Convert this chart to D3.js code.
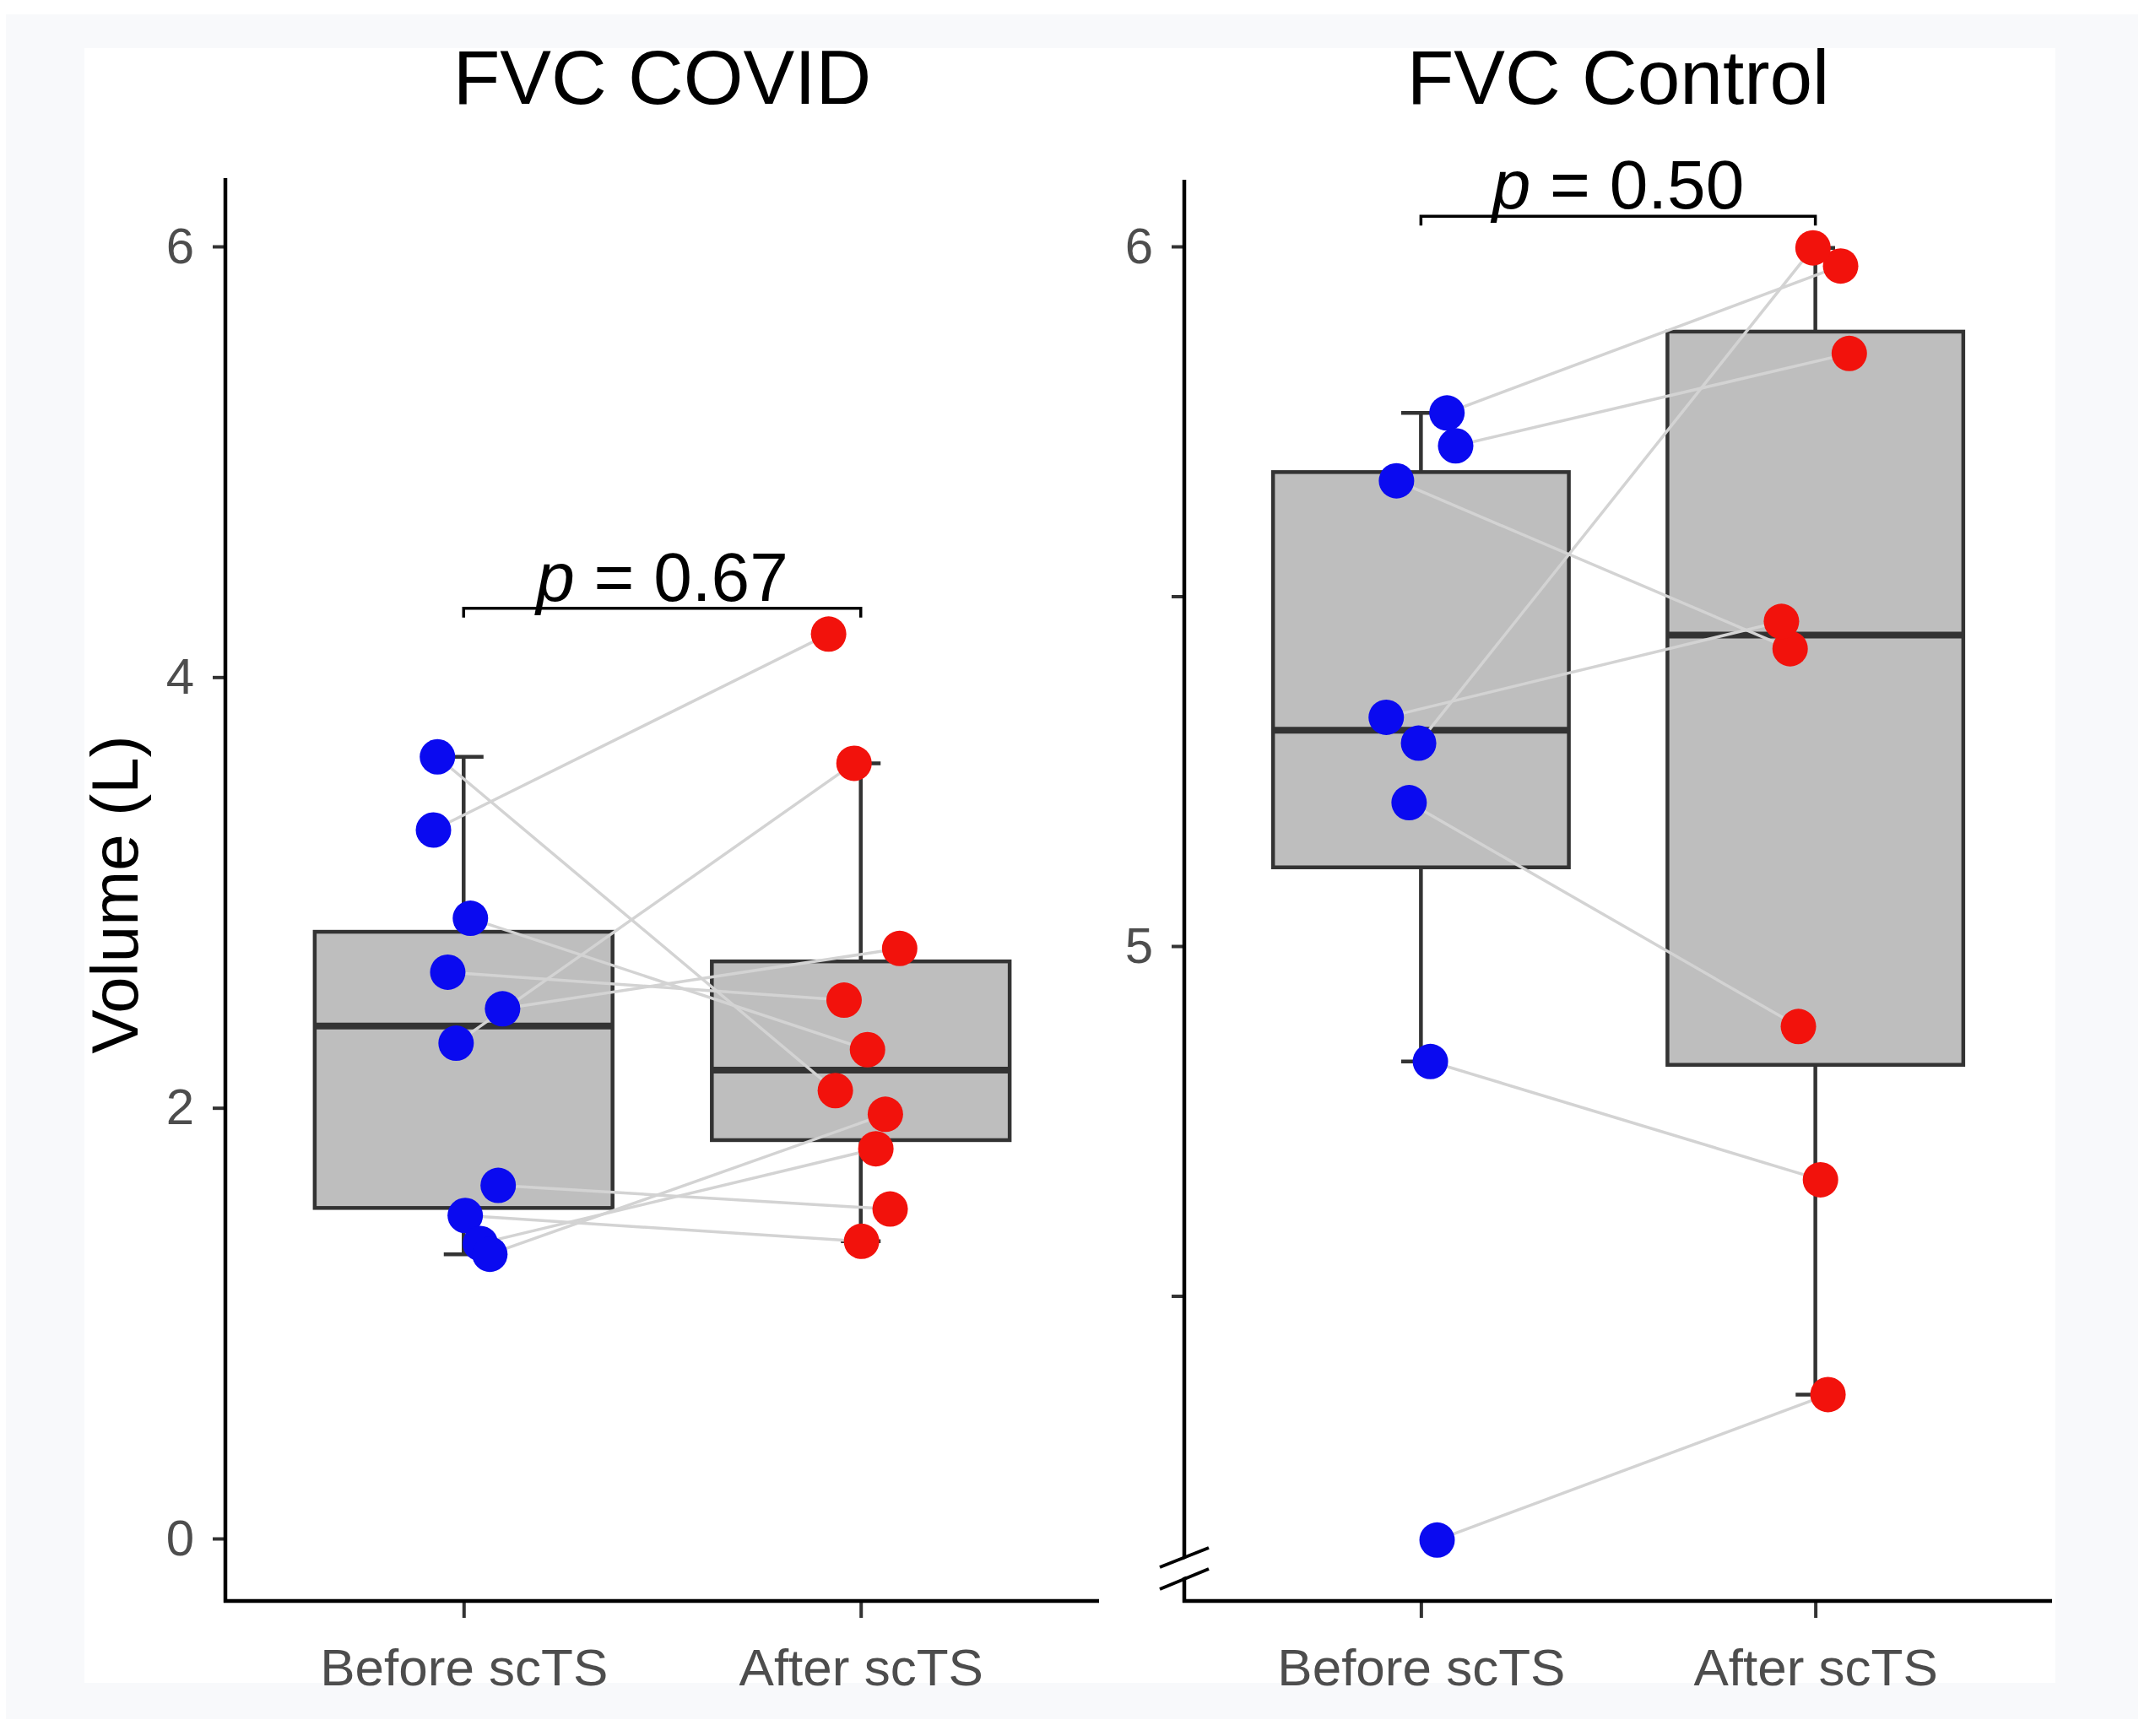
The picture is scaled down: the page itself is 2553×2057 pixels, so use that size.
<!DOCTYPE html>
<html><head><meta charset="utf-8">
<script src="https://cdn.jsdelivr.net/npm/d3@7"></script>
<style>html,body{margin:0;padding:0;background:#fff;} svg{display:block;font-family:"Liberation Sans",Arial,Helvetica,sans-serif;}</style>
</head><body><div id="chart"></div>
<script>
// ---------- data ----------
const categories = ["Before scTS", "After scTS"];
const panelTitles = ["FVC COVID", "FVC Control"];
const yLabel = "Volume (L)";

// paired values (index i in Before is linked to index i in After)
const covidBefore = [3.63, 3.29, 2.88, 2.63, 2.46, 2.30, 1.64, 1.50, 1.37, 1.32];
const covidAfter  = [2.08, 4.20, 2.27, 2.50, 2.74, 3.60, 1.53, 1.38, 1.81, 1.97];
const covidJitterBefore = [-0.066, -0.076, 0.017, -0.040, 0.098, -0.019, 0.087, 0.004, 0.042, 0.066];
const covidJitterAfter  = [-0.064, -0.081, 0.017, -0.042, 0.098, -0.017, 0.074, 0.002, 0.038, 0.062];

const controlBefore = [5.762, 5.715, 5.665, 5.327, 5.290, 5.205, 4.835, 4.151];
const controlAfter  = [5.972, 5.847, 5.425, 5.464, 5.998, 4.885, 4.666, 4.359];
const controlJitterBefore = [0.066, 0.088, -0.062, -0.088, -0.006, -0.030, 0.024, 0.041];
const controlJitterAfter  = [0.064, 0.086, -0.064, -0.086, -0.006, -0.043, 0.013, 0.032];

const covidTicks = [0, 2, 4, 6];
const covidTickLabels = ["0", "2", "4", "6"];
const controlTicks = [4.5, 5, 5.5, 6];
const controlTickLabels = ["", "5", "", "6"];
const pLabels = ["0.67", "0.50"];

// ---------- layout ----------
const W = 2553, H = 2057;
const svg = d3.select("#chart").append("svg").attr("width", W).attr("height", H);

svg.append("rect").attr("x", 0).attr("y", 0).attr("width", W).attr("height", H).attr("fill", "#ffffff");
svg.append("rect").attr("x", 7).attr("y", 17).attr("width", 2526).attr("height", 2020).attr("fill", "#f8f9fb");
svg.append("rect").attr("x", 100).attr("y", 57).attr("width", 2335).attr("height", 1937).attr("fill", "#ffffff");

const panels = [
  { title: panelTitles[0], before: covidBefore, after: covidAfter, jb: covidJitterBefore, ja: covidJitterAfter,
    xRange: [267, 1302], yDomain: [0, 6], yRange: [1823, 292], axisTop: 211, axisBottom: 1897,
    ticks: covidTicks, tickLabels: covidTickLabels, bracket: 4.32, p: pLabels[0], brk: false },
  { title: panelTitles[1], before: controlBefore, after: controlAfter, jb: controlJitterBefore, ja: controlJitterAfter,
    xRange: [1403, 2431], yDomain: [5, 6], yRange: [1121, 292], axisTop: 213, axisBottom: 1897,
    ticks: controlTicks, tickLabels: controlTickLabels, bracket: 6.043, p: pLabels[1], brk: true }
];

const BLUE = "#0a0af0", RED = "#f2120c";

function boxStats(vals) {
  const s = vals.slice().sort(d3.ascending);
  const q1 = d3.quantile(s, 0.25), med = d3.quantile(s, 0.5), q3 = d3.quantile(s, 0.75);
  const iqr = q3 - q1;
  const lo = d3.min(s.filter(v => v >= q1 - 1.5 * iqr));
  const hi = d3.max(s.filter(v => v <= q3 + 1.5 * iqr));
  return { q1, med, q3, lo, hi };
}

panels.forEach(P => {
  const g = svg.append("g");
  const x = d3.scalePoint().domain(categories).range(P.xRange).padding(0.6);
  const y = d3.scaleLinear().domain(P.yDomain).range(P.yRange);
  const step = x.step();
  const bw = step * 0.75;
  const groups = [P.before, P.after];

  // title
  g.append("text").attr("x", (P.xRange[0] + P.xRange[1]) / 2).attr("y", 123)
    .attr("text-anchor", "middle").attr("font-size", 91).attr("fill", "#000").text(P.title);

  // boxplots
  groups.forEach((vals, i) => {
    const st = boxStats(vals);
    const cx = x(categories[i]);
    const capW = step * 0.1;
    g.append("line").attr("x1", cx).attr("x2", cx).attr("y1", y(st.q3)).attr("y2", y(st.hi))
      .attr("stroke", "#333").attr("stroke-width", 4.5);
    g.append("line").attr("x1", cx).attr("x2", cx).attr("y1", y(st.q1)).attr("y2", y(st.lo))
      .attr("stroke", "#333").attr("stroke-width", 4.5);
    [st.hi, st.lo].forEach(v => {
      g.append("line").attr("x1", cx - capW / 2).attr("x2", cx + capW / 2).attr("y1", y(v)).attr("y2", y(v))
        .attr("stroke", "#333").attr("stroke-width", 4.5);
    });
    g.append("rect").attr("x", cx - bw / 2).attr("y", y(st.q3)).attr("width", bw).attr("height", y(st.q1) - y(st.q3))
      .attr("fill", "#bebebe").attr("stroke", "#333").attr("stroke-width", 4.5);
    g.append("line").attr("x1", cx - bw / 2).attr("x2", cx + bw / 2).attr("y1", y(st.med)).attr("y2", y(st.med))
      .attr("stroke", "#333").attr("stroke-width", 8);
  });

  // paired lines
  const xb = x(categories[0]), xa = x(categories[1]);
  P.before.forEach((v, i) => {
    g.append("line")
      .attr("x1", xb + P.jb[i] * step).attr("y1", y(v))
      .attr("x2", xa + P.ja[i] * step).attr("y2", y(P.after[i]))
      .attr("stroke", "#d3d3d3").attr("stroke-width", 3.5);
  });
  // points
  P.before.forEach((v, i) => {
    g.append("circle").attr("cx", xb + P.jb[i] * step).attr("cy", y(v)).attr("r", 21).attr("fill", BLUE);
  });
  P.after.forEach((v, i) => {
    g.append("circle").attr("cx", xa + P.ja[i] * step).attr("cy", y(v)).attr("r", 21).attr("fill", RED);
  });

  // significance bracket
  const by = y(P.bracket);
  g.append("path").attr("d", `M${xb},${by + 11}V${by}H${xa}V${by + 11}`)
    .attr("fill", "none").attr("stroke", "#000").attr("stroke-width", 3.5);
  const pt = g.append("text").attr("x", (xb + xa) / 2).attr("y", by - 9)
    .attr("text-anchor", "middle").attr("font-size", 82).attr("fill", "#000");
  pt.append("tspan").attr("font-style", "italic").text("p");
  pt.append("tspan").text(" = " + P.p);

  // y axis
  const yAxis = d3.axisLeft(y).tickValues(P.ticks).tickSize(15).tickPadding(22)
    .tickFormat((d, i) => P.tickLabels[i]);
  const ya = g.append("g").attr("transform", `translate(${P.xRange[0]},0)`).call(yAxis);
  ya.select(".domain").remove();
  ya.selectAll(".tick line").attr("stroke", "#333").attr("stroke-width", 4);
  ya.selectAll(".tick text").attr("font-size", 60).attr("fill", "#4d4d4d")
    .attr("font-family", "'Liberation Sans', Arial, sans-serif");
  g.append("line").attr("x1", P.xRange[0]).attr("x2", P.xRange[0]).attr("y1", P.axisTop).attr("y2", P.axisBottom + 2)
    .attr("stroke", "#000").attr("stroke-width", 4.5);

  // x axis
  const xAxis = d3.axisBottom(x).tickSize(20).tickPadding(36);
  const xa_ = g.append("g").attr("transform", `translate(0,${P.axisBottom})`).call(xAxis);
  xa_.select(".domain").remove();
  xa_.selectAll(".tick line").attr("stroke", "#333").attr("stroke-width", 4);
  xa_.selectAll(".tick text").attr("font-size", 62).attr("fill", "#4d4d4d")
    .attr("font-family", "'Liberation Sans', Arial, sans-serif");
  g.append("line").attr("x1", P.xRange[0] - 2).attr("x2", P.xRange[1]).attr("y1", P.axisBottom).attr("y2", P.axisBottom)
    .attr("stroke", "#000").attr("stroke-width", 4.5);

  // axis break marks
  if (P.brk) {
    const ax = P.xRange[0];
    g.append("polygon")
      .attr("points", [[ax - 29, 1859], [ax + 29, 1836], [ax + 29, 1857], [ax - 29, 1880]].map(p => p.join(",")).join(" "))
      .attr("fill", "#fff");
    [[1857, 1834], [1883, 1859]].forEach(([y1, y2]) => {
      g.append("line").attr("x1", ax - 29).attr("y1", y1).attr("x2", ax + 29).attr("y2", y2)
        .attr("stroke", "#000").attr("stroke-width", 4);
    });
  }
});

// y axis label
svg.append("text").attr("transform", "translate(163,1060) rotate(-90)")
  .attr("text-anchor", "middle").attr("font-size", 78).attr("fill", "#000").text(yLabel);
</script>
</body></html>
